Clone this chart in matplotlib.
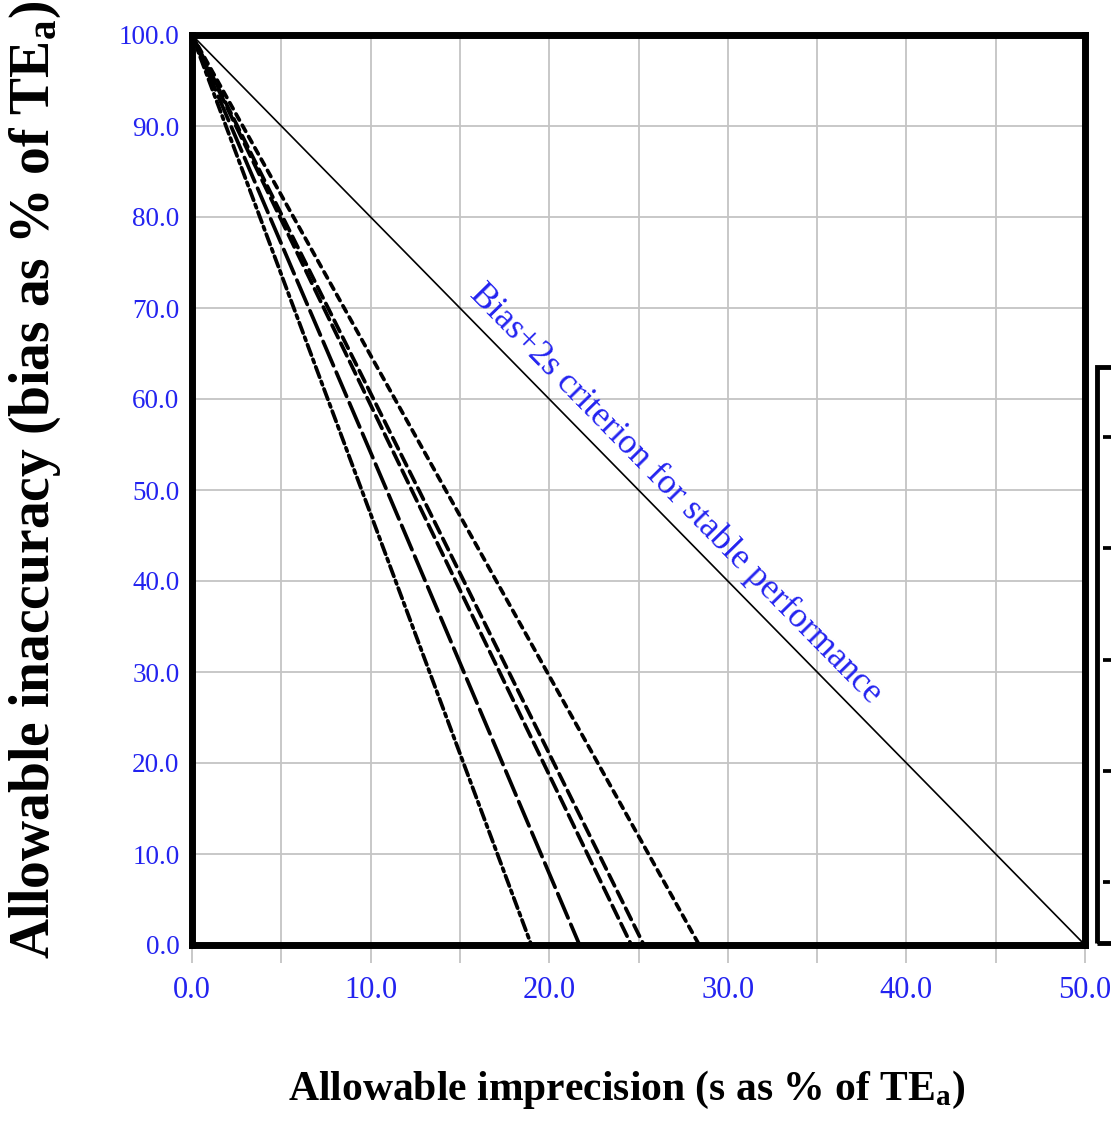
import numpy as np
import matplotlib
matplotlib.use("Agg")
import matplotlib.pyplot as plt
from matplotlib.patches import Rectangle
from matplotlib.lines import Line2D

# ---------------- data ----------------
criterion_x = [0.0, 50.0]
criterion_y = [100.0, 0.0]

line_names = ["dashdot", "longdash", "dash_a", "dash_b", "dotted"]
line_x = {
    "dashdot":  [0.0, 9.5, 19.0],
    "longdash": [0.0, 10.9, 21.7],
    "dash_a":   [0.0, 12.3, 24.6],
    "dash_b":   [0.0, 12.7, 25.3],
    "dotted":   [0.0, 14.2, 28.4],
}
line_y = {
    "dashdot":  [100.0, 50.0, 0.0],
    "longdash": [100.0, 50.0, 0.0],
    "dash_a":   [100.0, 50.0, 0.0],
    "dash_b":   [100.0, 50.0, 0.0],
    "dotted":   [100.0, 50.0, 0.0],
}
x_ticks = [0, 5, 10, 15, 20, 25, 30, 35, 40, 45, 50]
x_ticklabels = ["0.0", "", "10.0", "", "20.0", "", "30.0", "", "40.0", "", "50.0"]
y_ticks = [0, 10, 20, 30, 40, 50, 60, 70, 80, 90, 100]
y_ticklabels = ["0.0", "10.0", "20.0", "30.0", "40.0", "50.0", "60.0", "70.0", "80.0", "90.0", "100.0"]
x_label = "Allowable imprecision (s as % of TE$_\\mathrm{a}$)"
y_label = "Allowable inaccuracy (bias as % of TE$_\\mathrm{a}$)"
annotation = "Bias+2s criterion for stable performance"

# ---------------- styles ----------------
plt.rcParams["font.family"] = ["Liberation Serif", "DejaVu Serif"]
plt.rcParams["mathtext.fontset"] = "custom"
plt.rcParams["mathtext.rm"] = "Liberation Serif:bold"
plt.rcParams["mathtext.default"] = "rm"
plt.rcParams["lines.scale_dashes"] = False

BLUE = "#2323f0"
GRID = "#c4c4c4"
styles = {
    "dashdot":  (0, (8.0, 3.2, 2.6, 3.2)),
    "longdash": (0, (19.0, 5.0)),
    "dash_a":   (0, (10.0, 4.5)),
    "dash_b":   (0, (9.0, 4.5)),
    "dotted":   (0, (5.0, 4.3)),
}
LW = 2.7

W, H = 1111, 1122
fig = plt.figure(figsize=(W / 100, H / 100), dpi=100)
ax = fig.add_axes([192 / W, 1 - 945 / H, (1085 - 192) / W, (945 - 35) / H])

ax.set_xlim(0, 50)
ax.set_ylim(0, 100)

# grid
for xv in x_ticks:
    ax.axvline(xv, color=GRID, lw=1.3, zorder=0)
for yv in y_ticks:
    ax.axhline(yv, color=GRID, lw=1.3, zorder=0)

# criterion line
ax.plot(criterion_x, criterion_y, color="black", lw=1.2, zorder=3)

# rule lines
for name in line_names:
    ax.plot(line_x[name], line_y[name], color="black", lw=LW,
            linestyle=styles[name], zorder=4, solid_capstyle="butt",
            dash_capstyle="round")

# annotation along criterion line
ang = np.degrees(np.arctan2(criterion_y[1] - criterion_y[0], criterion_x[1] - criterion_x[0]))
ax.text(27.1, 49.6, annotation, color=BLUE, fontsize=25.5, rotation=ang,
        transform_rotates_text=True, rotation_mode="anchor",
        ha="center", va="center", zorder=5)

# ticks
ax.set_xticks(x_ticks)
ax.set_xticklabels(x_ticklabels)
ax.set_yticks(y_ticks)
ax.set_yticklabels(y_ticklabels)
ax.tick_params(axis="x", colors=GRID, labelcolor=BLUE, length=13, width=1.3,
               direction="out", pad=9, labelsize=22)
ax.tick_params(axis="y", length=0, labelcolor=BLUE, pad=9, labelsize=19.5)

for sp in ax.spines.values():
    sp.set_linewidth(5.0)
    sp.set_color("black")
    sp.set_zorder(6)

# axis labels
ax.set_xlabel(x_label, fontsize=30, fontweight="bold")
ax.xaxis.set_label_coords((627 - 192) / 893, (945 - 1090) / 910)
ax.xaxis.label.set_va("center")
ax.set_ylabel(y_label, fontsize=40, fontweight="bold")
ax.yaxis.set_label_coords((35 - 192) / 893, (945 - 480) / 910)
ax.yaxis.label.set_va("center")

# partially visible legend box at the right edge
fig.patches.append(Rectangle((1097 / W, 1 - 943 / H), 0.05, (943 - 367) / H,
                             transform=fig.transFigure, fill=False,
                             edgecolor="black", lw=3.5, clip_on=False))
for i, name in enumerate(line_names):
    yy = 1 - (437 + i * 111.3) / H
    fig.lines.append(Line2D([1103 / W, 1.03], [yy, yy], transform=fig.transFigure,
                            color="black", lw=LW, linestyle=styles[name]))

fig.savefig("out.png", dpi=100)
